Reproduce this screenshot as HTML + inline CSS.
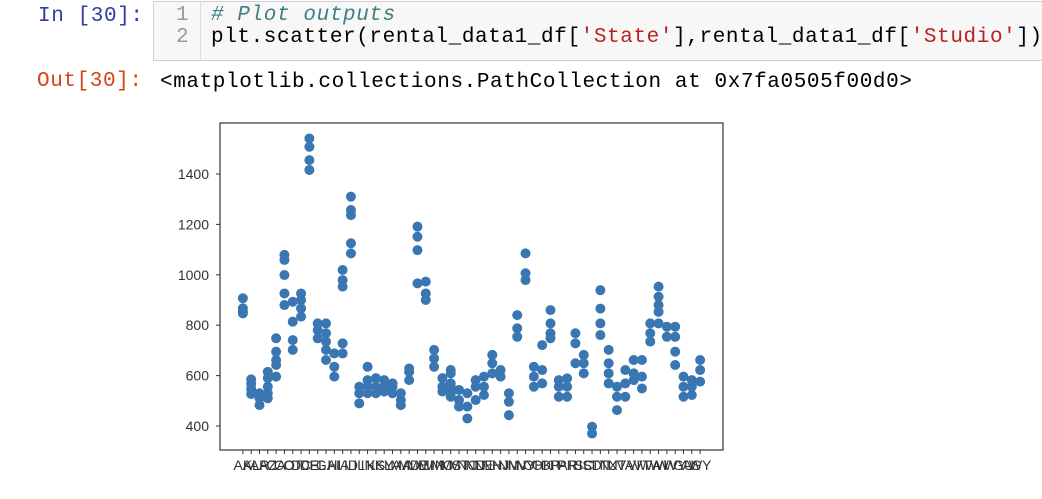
<!DOCTYPE html>
<html><head><meta charset="utf-8"><style>
body{margin:0;width:1042px;height:499px;background:#fff;overflow:hidden;position:relative;font-family:"Liberation Mono",monospace;}
.p{position:absolute;white-space:pre;font-size:21px;letter-spacing:0.6px;line-height:22px;}
</style></head><body>
<div class="p" style="left:38px;top:6px;color:#303f9f;">In [30]:</div>
<div style="position:absolute;left:153px;top:1px;width:900px;height:58px;background:#f7f7f7;border:1px solid #cfcfcf;">
  <div style="position:absolute;left:46px;top:0;width:1px;height:58px;background:#ddd"></div>
</div>
<div class="p" style="left:176px;top:5px;color:#999;">1
2</div>
<div class="p" style="left:211px;top:5px;color:#000;"><span style="color:#408080;font-style:italic"># Plot outputs</span>
plt.scatter(rental_data1_df[<span style="color:#ba2121">'State'</span>],rental_data1_df[<span style="color:#ba2121">'Studio'</span>])</div>
<div class="p" style="left:37px;top:71px;color:#d84315;">Out[30]:</div>
<div class="p" style="left:160px;top:72px;color:#000;">&lt;matplotlib.collections.PathCollection at 0x7fa0505f00d0&gt;</div>
<svg id="chart" width="1042" height="499" style="position:absolute;left:0;top:0" xmlns="http://www.w3.org/2000/svg"></svg>
<script>
const categories=["AK","AL","AR","AZ","CA","CO","CT","DC","DE","FL","GA","HI","IA","ID","IL","IN","KS","KY","LA","MA","MD","ME","MI","MN","MO","MS","MT","NC","ND","NE","NH","NJ","NM","NV","NY","OH","OK","OR","PA","PR","RI","SC","SD","TN","TX","UT","VA","VI","VT","WA","WI","WV","WY","GU","AS","WY2"];
const studioValues=[
[907,867,853,847],[585,567,547,527],[530,510,483],[615,590,556,530,510],[748,695,662,642,596],
[1079,1059,999,926,880],[893,814,741,702],[926,900,867,834],[1541,1508,1455,1416],[807,781,748],
[807,768,735,702,662],[688,635,596],[1019,979,953,728,688],[1310,1257,1237,1125,1085],[556,530,490],
[635,582,556,530],[590,556,530],[582,556,537],[569,556,530],[530,503,483],
[628,615,582],[1191,1151,1098,966],[973,926,900],[702,668,635],[590,556,537],
[622,609,569,556,530,516],[543,503,477],[530,477,430],[582,556,503],[596,556,523],
[682,649,609],[622,596],[530,496,443],[840,788,754],[1085,1006,979],
[635,596,556],[721,622,569],[860,807,768,748],[582,556,516],[589,556,516],
[768,728,649],[682,649,609],[397,370],[939,866,807,761],[702,649,609,569],
[556,516,463],[622,569,516],[662,609,582],[662,596,549],[807,768,735],
[953,913,880,853,807],[794,754],[794,754,695,642],[596,556,516],[582,556,523],[662,622,576]];
const yTicks=[400,600,800,1000,1200,1400];
const tickLabels=categories.map(c=>c.replace("2",""));
const L=220,R=723,T=123,B=450;
const n=categories.length;
const unit=(R-L)/((n-1)*1.1);
const xs=i=>L+unit*(n-1)*0.05+unit*i;
const ys=v=>426-(v-400)*0.252;
const svg=document.getElementById('chart');
const NS="http://www.w3.org/2000/svg";
function mk(t,a){const e=document.createElementNS(NS,t);for(const k in a)e.setAttribute(k,a[k]);svg.appendChild(e);return e;}
const frame=mk('rect',{x:L,y:T,width:R-L,height:B-T,fill:'none',stroke:'#333','stroke-width':1.2});


yTicks.forEach(v=>{
  const tk=mk('line',{x1:L-4,x2:L,y1:ys(v),y2:ys(v),stroke:'#333'});
  
  
  const t=mk('text',{x:L-11,y:ys(v)+5,'text-anchor':'end','font-size':'14','font-family':'Liberation Sans, sans-serif',fill:'#333'});
  t.textContent=v;
  
  
});
categories.forEach((c,i)=>{
  const tk=mk('line',{x1:xs(i),x2:xs(i),y1:B,y2:B+4,stroke:'#333'});
  
  
  const t=mk('text',{x:xs(i),y:B+20,'text-anchor':'middle','font-size':'14','font-family':'Liberation Sans, sans-serif',fill:'#333'});
  t.textContent=tickLabels[i];
  
  
});
studioValues.forEach((vals,i)=>vals.forEach(v=>{
  const d=mk('circle',{cx:xs(i),cy:ys(v),r:5,fill:'#3a76b1'});
  
  
}));
</script>
</body></html>
